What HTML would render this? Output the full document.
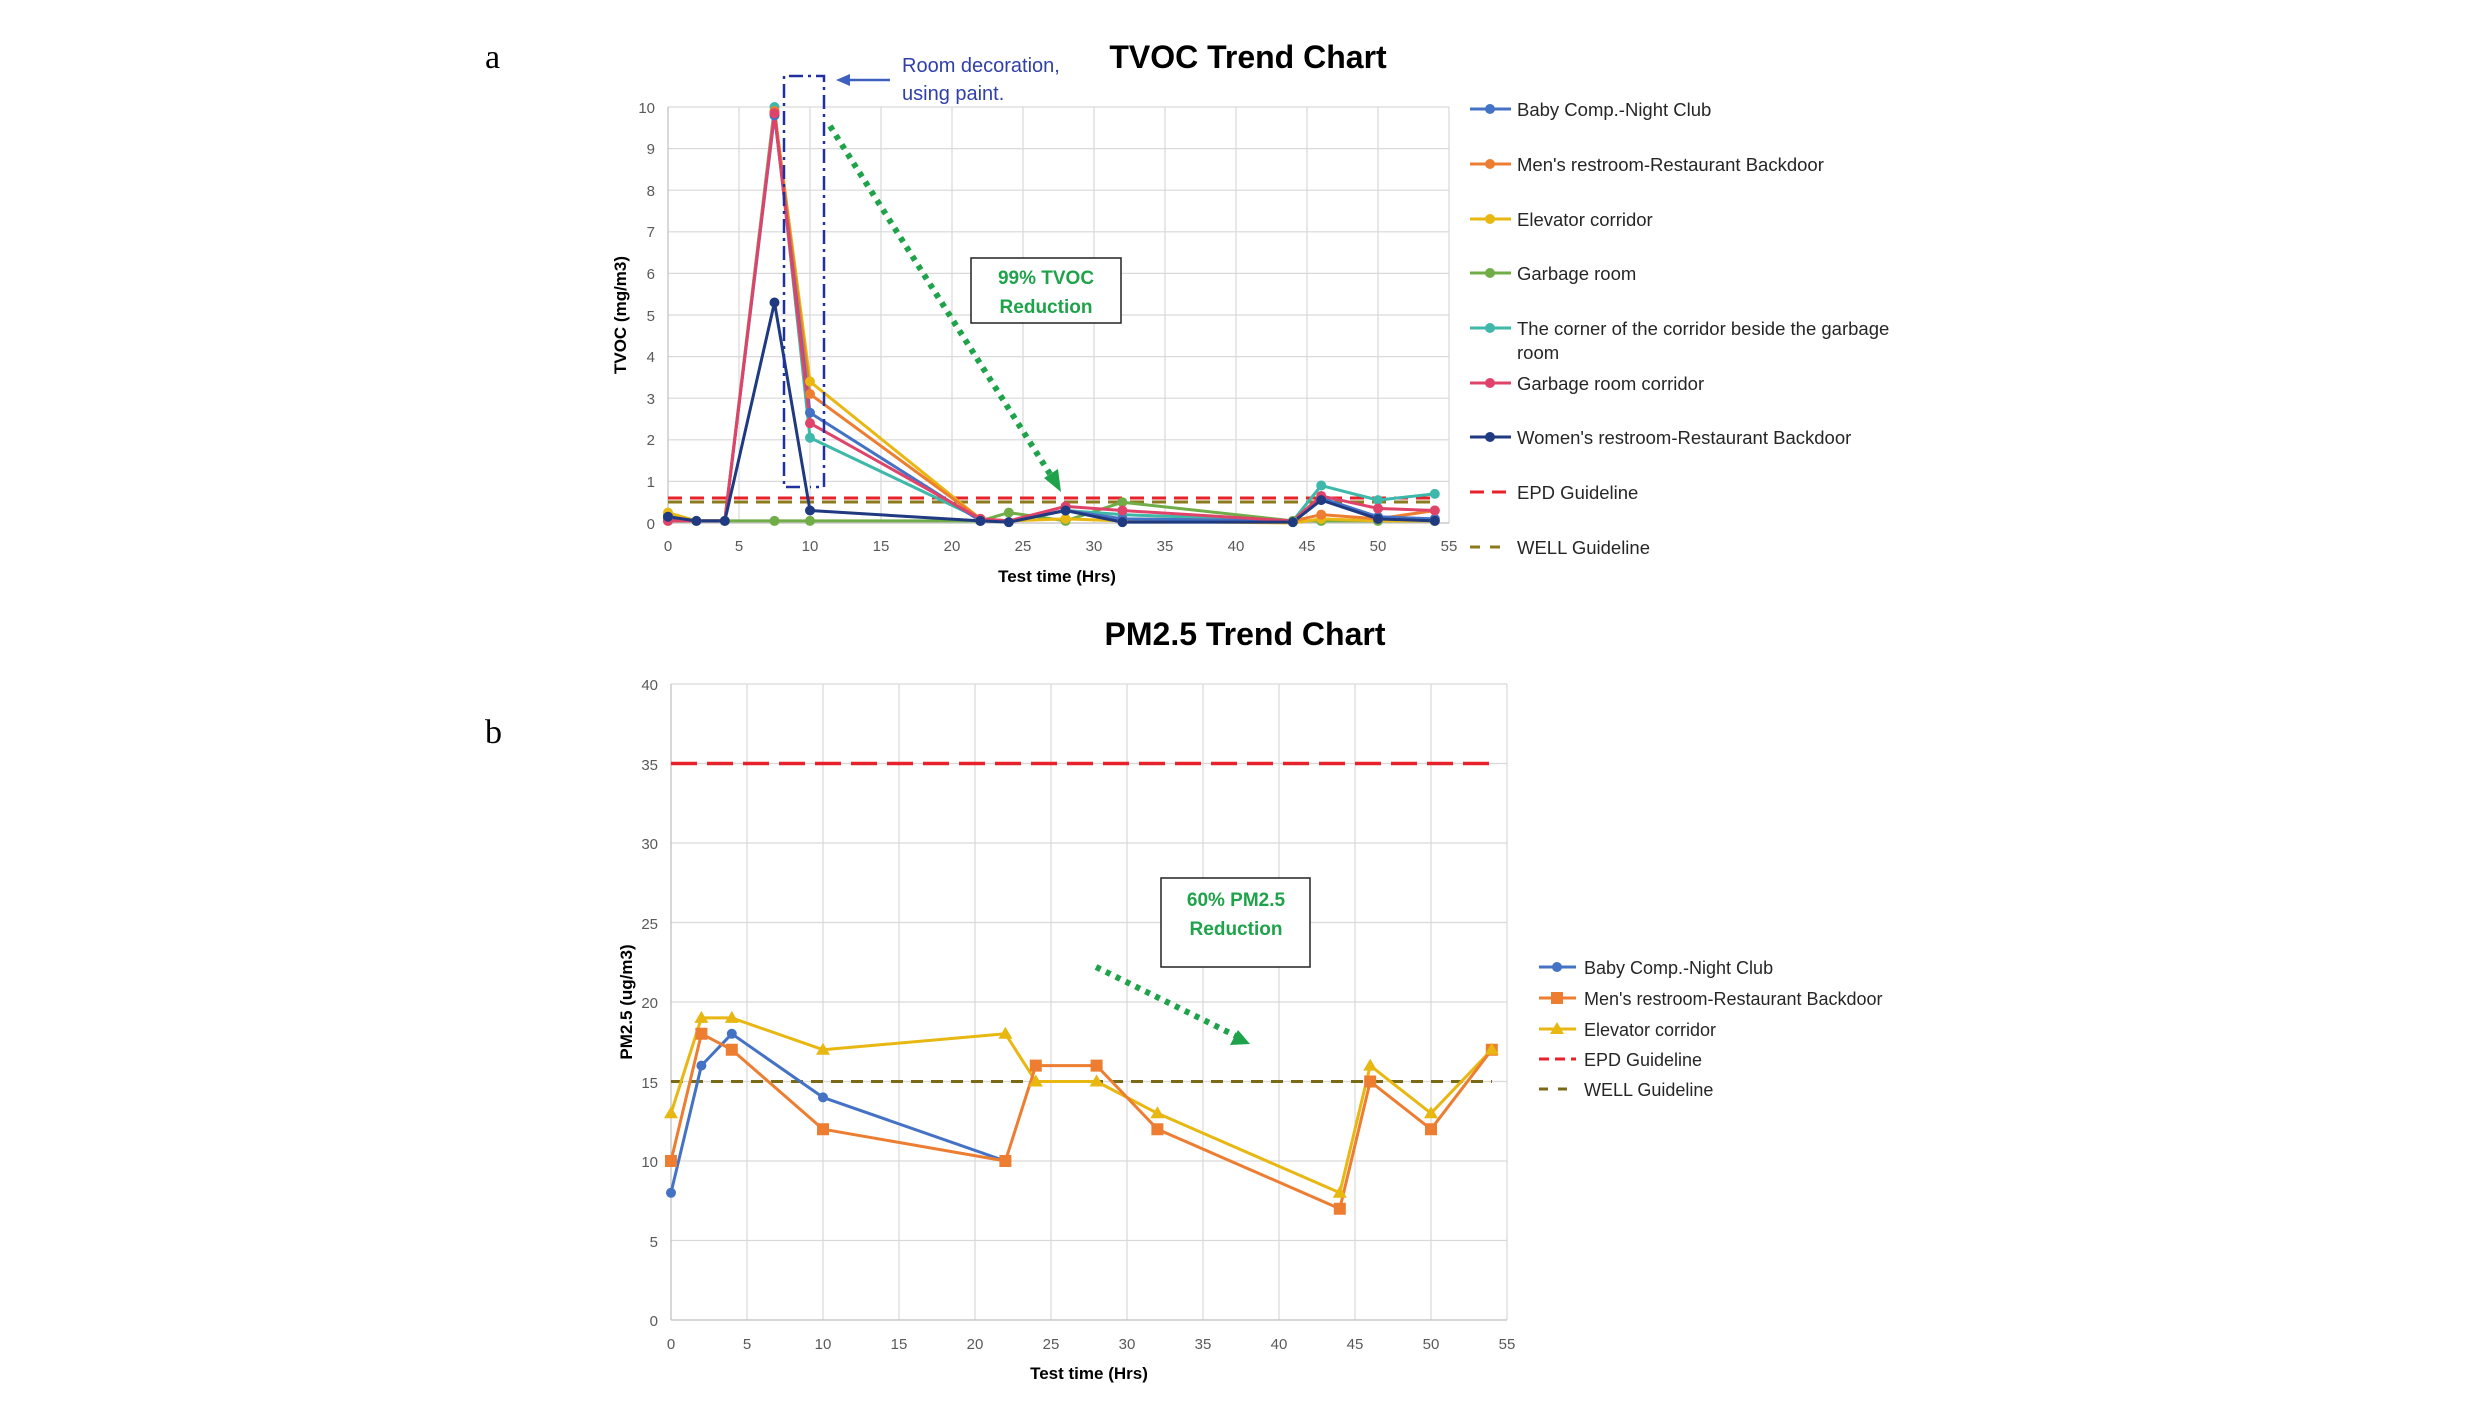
<!DOCTYPE html>
<html><head><meta charset="utf-8"><style>
html,body{margin:0;padding:0;background:#fff}
svg{display:block}
text{font-family:"Liberation Sans",sans-serif}
.tk{font-size:15px;fill:#595959}
.lg{font-size:18.5px;fill:#262626}
.ttl{font-size:32px;font-weight:bold;fill:#000}
.ax{font-size:17px;font-weight:bold;fill:#000}
.grn{font-size:19px;font-weight:bold;fill:#1fa34a}
</style></head><body>
<svg width="2481" height="1413" viewBox="0 0 2481 1413" xmlns="http://www.w3.org/2000/svg">
<defs>
<path id="tri" d="M0,-7 L7,5 L-7,5Z" fill="#E8B711"/>
</defs>
<text x="485" y="68" style="font-family:'Liberation Serif',serif;font-size:34px">a</text>
<text x="485" y="743" style="font-family:'Liberation Serif',serif;font-size:34px">b</text>

<!-- ================= TVOC ================= -->
<text class="ttl" x="1248" y="68" text-anchor="middle">TVOC Trend Chart</text>
<g stroke="#d9d9d9" stroke-width="1.2">
<line x1="668" y1="107" x2="1449" y2="107"/><line x1="668" y1="148.6" x2="1449" y2="148.6"/><line x1="668" y1="190.2" x2="1449" y2="190.2"/><line x1="668" y1="231.8" x2="1449" y2="231.8"/><line x1="668" y1="273.4" x2="1449" y2="273.4"/><line x1="668" y1="315" x2="1449" y2="315"/><line x1="668" y1="356.6" x2="1449" y2="356.6"/><line x1="668" y1="398.2" x2="1449" y2="398.2"/><line x1="668" y1="439.8" x2="1449" y2="439.8"/><line x1="668" y1="481.4" x2="1449" y2="481.4"/>
<line x1="739" y1="107" x2="739" y2="523"/><line x1="810" y1="107" x2="810" y2="523"/><line x1="881" y1="107" x2="881" y2="523"/><line x1="952" y1="107" x2="952" y2="523"/><line x1="1023" y1="107" x2="1023" y2="523"/><line x1="1094" y1="107" x2="1094" y2="523"/><line x1="1165" y1="107" x2="1165" y2="523"/><line x1="1236" y1="107" x2="1236" y2="523"/><line x1="1307" y1="107" x2="1307" y2="523"/><line x1="1378" y1="107" x2="1378" y2="523"/><line x1="1449" y1="107" x2="1449" y2="523"/>
<line x1="668" y1="107" x2="668" y2="523" stroke="#bfbfbf"/>
<line x1="668" y1="523" x2="1449" y2="523" stroke="#bfbfbf"/>
</g>
<g class="tk" text-anchor="end">
<text x="655" y="113">10</text><text x="655" y="154">9</text><text x="655" y="196">8</text><text x="655" y="237">7</text><text x="655" y="279">6</text><text x="655" y="321">5</text><text x="655" y="362">4</text><text x="655" y="404">3</text><text x="655" y="445">2</text><text x="655" y="487">1</text><text x="655" y="529">0</text>
</g>
<g class="tk" text-anchor="middle">
<text x="668" y="551">0</text><text x="739" y="551">5</text><text x="810" y="551">10</text><text x="881" y="551">15</text><text x="952" y="551">20</text><text x="1023" y="551">25</text><text x="1094" y="551">30</text><text x="1165" y="551">35</text><text x="1236" y="551">40</text><text x="1307" y="551">45</text><text x="1378" y="551">50</text><text x="1449" y="551">55</text>
</g>
<text class="ax" x="1057" y="582" text-anchor="middle">Test time (Hrs)</text>
<text class="ax" transform="translate(626,315) rotate(-90)" text-anchor="middle">TVOC (mg/m3)</text>

<line x1="668" y1="498" x2="1435" y2="498" stroke="#e8222a" stroke-width="3" stroke-dasharray="14,8"/>
<line x1="668" y1="502" x2="1435" y2="502" stroke="#8c7a1e" stroke-width="3" stroke-dasharray="14,8"/>

<g transform="translate(668,523) scale(14.2,-41.6)" fill="none" stroke-linejoin="round">
<polyline vector-effect="non-scaling-stroke" stroke="#70AD47" stroke-width="3" points="0,.05 2,.05 4,.05 7.5,.05 10,.05 22,.05 24,.25 28,.05 32,.5 44,.05 46,.05 50,.05 54,.05"/>
<polyline vector-effect="non-scaling-stroke" stroke="#3DB8AA" stroke-width="3" points="0,.2 2,.05 4,.05 7.5,10 10,2.05 22,.1 24,.05 28,.3 32,.2 44,.05 46,.9 50,.55 54,.7"/>
<polyline vector-effect="non-scaling-stroke" stroke="#E8B711" stroke-width="3" points="0,.25 2,.05 4,.05 7.5,9.9 10,3.4 22,.1 24,.05 28,.1 32,.05 44,0 46,.1 50,.05 54,.05"/>
<polyline vector-effect="non-scaling-stroke" stroke="#ED7D31" stroke-width="3" points="0,.15 2,.05 4,.05 7.5,9.9 10,3.1 22,.1 24,.05 28,.3 32,.1 44,.05 46,.2 50,.1 54,.3"/>
<polyline vector-effect="non-scaling-stroke" stroke="#4472C4" stroke-width="3" points="0,.1 2,.05 4,.05 7.5,9.8 10,2.65 22,.05 24,.05 28,.3 32,.1 44,.05 46,.6 50,.15 54,.1"/>
<polyline vector-effect="non-scaling-stroke" stroke="#E0436A" stroke-width="3" points="0,.05 2,.05 4,.05 7.5,9.85 10,2.4 22,.1 24,.05 28,.4 32,.3 44,.05 46,.65 50,.35 54,.3"/>
<polyline vector-effect="non-scaling-stroke" stroke="#1F3A80" stroke-width="3" points="0,.15 2,.05 4,.05 7.5,5.3 10,.3 22,.05 24,.02 28,.3 32,.02 44,.02 46,.55 50,.1 54,.05"/>
<g stroke-linecap="round">
<path vector-effect="non-scaling-stroke" stroke="#70AD47" stroke-width="10" d="M0,.05h0M2,.05h0M4,.05h0M7.5,.05h0M10,.05h0M22,.05h0M24,.25h0M28,.05h0M32,.5h0M44,.05h0M46,.05h0M50,.05h0M54,.05h0"/>
<path vector-effect="non-scaling-stroke" stroke="#3DB8AA" stroke-width="10" d="M0,.2h0M7.5,10h0M10,2.05h0M22,.1h0M28,.3h0M32,.2h0M46,.9h0M50,.55h0M54,.7h0"/>
<path vector-effect="non-scaling-stroke" stroke="#E8B711" stroke-width="10" d="M0,.25h0M7.5,9.9h0M10,3.4h0M22,.1h0M28,.1h0M32,.05h0M46,.1h0M54,.05h0"/>
<path vector-effect="non-scaling-stroke" stroke="#ED7D31" stroke-width="10" d="M0,.15h0M7.5,9.9h0M10,3.1h0M22,.1h0M28,.3h0M32,.1h0M46,.2h0M50,.1h0M54,.3h0"/>
<path vector-effect="non-scaling-stroke" stroke="#4472C4" stroke-width="10" d="M0,.1h0M7.5,9.8h0M10,2.65h0M22,.05h0M28,.3h0M32,.1h0M46,.6h0M50,.15h0M54,.1h0"/>
<path vector-effect="non-scaling-stroke" stroke="#E0436A" stroke-width="10" d="M0,.05h0M7.5,9.85h0M10,2.4h0M22,.1h0M28,.4h0M32,.3h0M46,.65h0M50,.35h0M54,.3h0"/>
<path vector-effect="non-scaling-stroke" stroke="#1F3A80" stroke-width="10" d="M0,.15h0M2,.05h0M4,.05h0M7.5,5.3h0M10,.3h0M22,.05h0M24,.02h0M28,.3h0M32,.02h0M44,.02h0M46,.55h0M50,.1h0M54,.05h0"/>
</g>
</g>

<polyline points="800,487 784,487 784,76 824,76 824,487 810,487" fill="none" stroke="#2030a0" stroke-width="2.5" stroke-dasharray="14,5,3,5"/>
<line x1="890" y1="80" x2="845" y2="80" stroke="#4060c0" stroke-width="2.5"/>
<path d="M836,80 L850,74 L850,86Z" fill="#4060c0"/>
<text x="902" y="72" style="font-size:20px;fill:#3040a8">Room decoration,</text>
<text x="902" y="100" style="font-size:20px;fill:#3040a8">using paint.</text>
<line x1="830" y1="126" x2="1050" y2="474" stroke="#1fa34a" stroke-width="6" stroke-dasharray="5,6"/>
<path d="M1061,492 L1044,478 L1058,469Z" fill="#1fa34a"/>
<rect x="971" y="258" width="150" height="65" fill="#fff" stroke="#222" stroke-width="1.5"/>
<text class="grn" x="1046" y="284" text-anchor="middle">99% TVOC</text>
<text class="grn" x="1046" y="313" text-anchor="middle">Reduction</text>

<g stroke-width="3">
<line x1="1470" y1="109" x2="1511" y2="109" stroke="#4472C4"/><circle cx="1490" cy="109" r="5" fill="#4472C4"/>
<line x1="1470" y1="164" x2="1511" y2="164" stroke="#ED7D31"/><circle cx="1490" cy="164" r="5" fill="#ED7D31"/>
<line x1="1470" y1="219" x2="1511" y2="219" stroke="#E8B711"/><circle cx="1490" cy="219" r="5" fill="#E8B711"/>
<line x1="1470" y1="273" x2="1511" y2="273" stroke="#70AD47"/><circle cx="1490" cy="273" r="5" fill="#70AD47"/>
<line x1="1470" y1="328" x2="1511" y2="328" stroke="#3DB8AA"/><circle cx="1490" cy="328" r="5" fill="#3DB8AA"/>
<line x1="1470" y1="383" x2="1511" y2="383" stroke="#E0436A"/><circle cx="1490" cy="383" r="5" fill="#E0436A"/>
<line x1="1470" y1="437" x2="1511" y2="437" stroke="#1F3A80"/><circle cx="1490" cy="437" r="5" fill="#1F3A80"/>
<line x1="1470" y1="492" x2="1507" y2="492" stroke="#e8222a" stroke-dasharray="14,8"/>
<line x1="1470" y1="547" x2="1507" y2="547" stroke="#8c7a1e" stroke-dasharray="10,10"/>
</g>
<g class="lg">
<text x="1517" y="116">Baby Comp.-Night Club</text>
<text x="1517" y="171">Men's restroom-Restaurant Backdoor</text>
<text x="1517" y="226">Elevator corridor</text>
<text x="1517" y="280">Garbage room</text>
<text x="1517" y="335">The corner of the corridor beside the garbage</text>
<text x="1517" y="359">room</text>
<text x="1517" y="390">Garbage room corridor</text>
<text x="1517" y="444">Women's restroom-Restaurant Backdoor</text>
<text x="1517" y="499">EPD Guideline</text>
<text x="1517" y="554">WELL Guideline</text>
</g>

<!-- ================= PM2.5 ================= -->
<text class="ttl" x="1245" y="645" text-anchor="middle">PM2.5 Trend Chart</text>
<g stroke="#d9d9d9" stroke-width="1.2">
<line x1="671" y1="684" x2="1507" y2="684"/><line x1="671" y1="763.5" x2="1507" y2="763.5"/><line x1="671" y1="843" x2="1507" y2="843"/><line x1="671" y1="922.5" x2="1507" y2="922.5"/><line x1="671" y1="1002" x2="1507" y2="1002"/><line x1="671" y1="1081.5" x2="1507" y2="1081.5"/><line x1="671" y1="1161" x2="1507" y2="1161"/><line x1="671" y1="1240.5" x2="1507" y2="1240.5"/>
<line x1="747" y1="684" x2="747" y2="1320"/><line x1="823" y1="684" x2="823" y2="1320"/><line x1="899" y1="684" x2="899" y2="1320"/><line x1="975" y1="684" x2="975" y2="1320"/><line x1="1051" y1="684" x2="1051" y2="1320"/><line x1="1127" y1="684" x2="1127" y2="1320"/><line x1="1203" y1="684" x2="1203" y2="1320"/><line x1="1279" y1="684" x2="1279" y2="1320"/><line x1="1355" y1="684" x2="1355" y2="1320"/><line x1="1431" y1="684" x2="1431" y2="1320"/><line x1="1507" y1="684" x2="1507" y2="1320"/>
<line x1="671" y1="684" x2="671" y2="1320" stroke="#bfbfbf"/>
<line x1="671" y1="1320" x2="1507" y2="1320" stroke="#bfbfbf"/>
</g>
<g class="tk" text-anchor="end">
<text x="658" y="690">40</text><text x="658" y="770">35</text><text x="658" y="849">30</text><text x="658" y="929">25</text><text x="658" y="1008">20</text><text x="658" y="1088">15</text><text x="658" y="1167">10</text><text x="658" y="1247">5</text><text x="658" y="1326">0</text>
</g>
<g class="tk" text-anchor="middle">
<text x="671" y="1349">0</text><text x="747" y="1349">5</text><text x="823" y="1349">10</text><text x="899" y="1349">15</text><text x="975" y="1349">20</text><text x="1051" y="1349">25</text><text x="1127" y="1349">30</text><text x="1203" y="1349">35</text><text x="1279" y="1349">40</text><text x="1355" y="1349">45</text><text x="1431" y="1349">50</text><text x="1507" y="1349">55</text>
</g>
<text class="ax" x="1089" y="1379" text-anchor="middle">Test time (Hrs)</text>
<text class="ax" transform="translate(632,1002) rotate(-90)" text-anchor="middle">PM2.5 (ug/m3)</text>

<line x1="671" y1="763.5" x2="1492" y2="763.5" stroke="#e8222a" stroke-width="3.5" stroke-dasharray="26,10"/>
<line x1="671" y1="1081.5" x2="1492" y2="1081.5" stroke="#7a6a16" stroke-width="3" stroke-dasharray="12,8"/>

<g transform="translate(671,1320) scale(15.2,-15.9)" fill="none" stroke-linejoin="round">
<polyline vector-effect="non-scaling-stroke" stroke="#4472C4" stroke-width="3" points="0,8 2,16 4,18 10,14 22,10"/>
<polyline vector-effect="non-scaling-stroke" stroke="#E8B711" stroke-width="3" points="0,13 2,19 4,19 10,17 22,18 24,15 28,15 32,13 44,8 46,16 50,13 54,17"/>
<polyline vector-effect="non-scaling-stroke" stroke="#ED7D31" stroke-width="3" points="0,10 2,18 4,17 10,12 22,10 24,16 28,16 32,12 44,7 46,15 50,12 54,17"/>
<path vector-effect="non-scaling-stroke" stroke="#4472C4" stroke-width="10" stroke-linecap="round" d="M0,8h0M2,16h0M4,18h0M10,14h0"/>
<path vector-effect="non-scaling-stroke" stroke="#ED7D31" stroke-width="12" stroke-linecap="square" d="M0,10h0M2,18h0M4,17h0M10,12h0M22,10h0M24,16h0M28,16h0M32,12h0M44,7h0M46,15h0M50,12h0M54,17h0"/>
</g>
<g>
<use href="#tri" x="671" y="1113.3"/><use href="#tri" x="701.4" y="1017.9"/><use href="#tri" x="731.8" y="1017.9"/><use href="#tri" x="823" y="1049.7"/><use href="#tri" x="1005.4" y="1033.8"/><use href="#tri" x="1035.8" y="1081.5"/><use href="#tri" x="1096.6" y="1081.5"/><use href="#tri" x="1157.4" y="1113.3"/><use href="#tri" x="1339.8" y="1192.8"/><use href="#tri" x="1370.2" y="1065.6"/><use href="#tri" x="1431" y="1113.3"/><use href="#tri" x="1491.8" y="1049.7"/>
</g>

<line x1="1096" y1="967" x2="1236" y2="1036" stroke="#1fa34a" stroke-width="6" stroke-dasharray="5,6"/>
<path d="M1250,1044 L1230,1045 L1238,1030Z" fill="#1fa34a"/>
<rect x="1161" y="878" width="149" height="89" fill="#fff" stroke="#222" stroke-width="1.5"/>
<text class="grn" x="1236" y="906" text-anchor="middle">60% PM2.5</text>
<text class="grn" x="1236" y="935" text-anchor="middle">Reduction</text>

<g stroke-width="3">
<line x1="1539" y1="967" x2="1576" y2="967" stroke="#4472C4"/><circle cx="1557" cy="967" r="5" fill="#4472C4"/>
<line x1="1539" y1="998" x2="1576" y2="998" stroke="#ED7D31"/><rect x="1551" y="992" width="12" height="12" fill="#ED7D31"/>
<line x1="1539" y1="1029" x2="1576" y2="1029" stroke="#E8B711"/><path d="M1557,1022 L1564,1034 L1550,1034Z" fill="#E8B711"/>
<line x1="1539" y1="1059" x2="1576" y2="1059" stroke="#e8222a" stroke-dasharray="10,6"/>
<line x1="1539" y1="1089" x2="1576" y2="1089" stroke="#7a6a16" stroke-dasharray="9,10"/>
</g>
<g class="lg" style="font-size:18px">
<text x="1584" y="974">Baby Comp.-Night Club</text>
<text x="1584" y="1005">Men's restroom-Restaurant Backdoor</text>
<text x="1584" y="1036">Elevator corridor</text>
<text x="1584" y="1066">EPD Guideline</text>
<text x="1584" y="1096">WELL Guideline</text>
</g>
</svg>
</body></html>
